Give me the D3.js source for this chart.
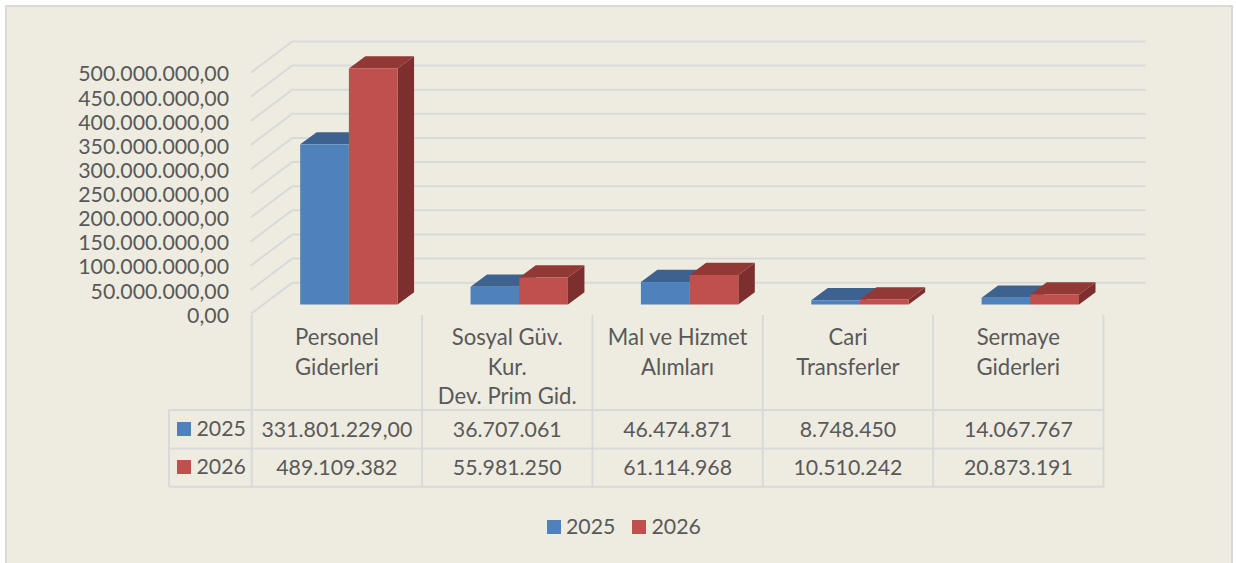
<!DOCTYPE html>
<html><head><meta charset="utf-8">
<script src="https://cdn.jsdelivr.net/npm/d3@7"></script>
<style>html,body{margin:0;padding:0;background:#fff}svg{display:block}text{font-family:Lato,"Open Sans",sans-serif;fill:#595959}</style>
</head><body><script>
const categoryLines = [["Personel","Giderleri"],["Sosyal Güv.","Kur.","Dev. Prim Gid."],["Mal ve Hizmet","Alımları"],["Cari","Transferler"],["Sermaye","Giderleri"]];
const seriesNames = ["2025","2026"];
const values2025 = [331801229,36707061,46474871,8748450,14067767];
const values2026 = [489109382,55981250,61114968,10510242,20873191];
const labels2025 = ["331.801.229,00","36.707.061","46.474.871","8.748.450","14.067.767"];
const labels2026 = ["489.109.382","55.981.250","61.114.968","10.510.242","20.873.191"];
const yTicks = d3.range(0,500000001,50000000);
const colors = {front:["#4F81BD","#C0504D"],top:["#3D628F","#923835"],side:["#345478","#7C2F2D"]};
const W=1236,H=563,fs=21.3,catFs=22.1;
const svg=d3.select("body").append("svg").attr("width",W).attr("height",H);
svg.append("rect").attr("x",6).attr("y",6).attr("width",1226).attr("height",H+10).attr("fill","#EEECE1").attr("stroke","#D9D9D9").attr("stroke-width",2);

const x=d3.scaleBand().domain(d3.range(5)).range([251.7,1103.5]);
const wallY=d3.scaleLinear().domain([0,500000000]).range([314,72.7]);
const barY=d3.scaleLinear().domain([0,500000000]).range([304.5,63.2]);
const barW=48.7, bx=16.5, by=-12.2, wx=41.5, wy=-31.3, backR=1145.7;
const sub=d3.scaleBand().domain([0,1]).range([-barW,barW]);

// grid
const grid=svg.append("g").attr("fill","none").attr("stroke","#D9D9D9").attr("stroke-width",2);
grid.selectAll("path").data(yTicks).join("path")
  .attr("d",v=>`M${x.range()[0]-1},${wallY(v)}L${x.range()[0]-1+wx},${wallY(v)+wy}H${backR}`);

// y axis labels
const yAxis=d3.axisLeft(wallY).tickValues(yTicks).tickSize(0).tickPadding(0)
  .tickFormat(v=>d3.format(",.2f")(v).replace(/,/g,"#").replace(".",",").replace(/#/g,"."));
const ya=svg.append("g").attr("transform","translate(229,1.4)").call(yAxis);
ya.select(".domain").remove();
ya.selectAll("text").style("font-size",fs+"px").style("font-family",null);

// bars
const center=i=>x(i)+x.bandwidth()/2+12;
[values2025,values2026].forEach((vals,s)=>{
  const g=svg.append("g");
  vals.forEach((v,i)=>{
    const l=center(i)+sub(s), r=l+barW, t=barY(v), b=barY(0);
    g.append("path").attr("fill",colors.side[s]).attr("d",`M${r},${t}L${r+bx},${t+by}V${b+by}L${r},${b}Z`);
    g.append("path").attr("fill",colors.top[s]).attr("d",`M${l},${t}L${l+bx},${t+by}H${r+bx}L${r},${t}Z`);
    g.append("rect").attr("fill",colors.front[s]).attr("x",l).attr("y",t).attr("width",barW).attr("height",b-t);
  });
});

// table
const rowY=[410,448.5,486.7];
const tbl=svg.append("g").attr("stroke","#D9D9D9").attr("stroke-width",2).attr("fill","none");
const edges=[...x.domain().map(i=>x(i)),x.range()[1]];
edges.forEach(e=>tbl.append("line").attr("x1",e).attr("x2",e).attr("y1",315).attr("y2",rowY[2]));
tbl.append("line").attr("x1",169).attr("x2",169).attr("y1",rowY[0]).attr("y2",rowY[2]);
rowY.forEach(y=>tbl.append("line").attr("x1",169).attr("x2",x.range()[1]).attr("y1",y).attr("y2",y));

const mid=i=>x(i)+x.bandwidth()/2;
categoryLines.forEach((lines,i)=>lines.forEach((t,k)=>{
  svg.append("text").attr("x",mid(i)).attr("y",345+k*29.5).attr("text-anchor","middle").style("font-size",catFs+"px").text(t);
}));
[labels2025,labels2026].forEach((labs,s)=>{
  const base=[436.7,474.7][s];
  labs.forEach((t,i)=>svg.append("text").attr("x",mid(i)).attr("y",base).attr("text-anchor","middle").style("font-size",fs+"px").text(t));
  svg.append("rect").attr("x",177).attr("y",base-14.7).attr("width",14).attr("height",14).attr("fill",colors.front[s]);
  svg.append("text").attr("x",196.5).attr("y",base-0.5).style("font-size",fs+"px").text(seriesNames[s]);
});
// legend
[[547,566],[632,651.5]].forEach((p,s)=>{
  svg.append("rect").attr("x",p[0]).attr("y",520).attr("width",14).attr("height",14).attr("fill",colors.front[s]);
  svg.append("text").attr("x",p[1]).attr("y",534).style("font-size",fs+"px").text(seriesNames[s]);
});
</script></body></html>
